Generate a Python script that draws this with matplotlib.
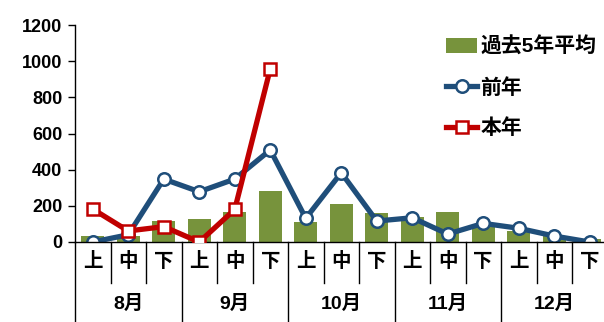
import numpy as np
import matplotlib
matplotlib.use('Agg')
import matplotlib.pyplot as plt
from matplotlib.transforms import blended_transform_factory

plt.rcParams['font.family'] = ['Liberation Sans', 'Noto Sans CJK JP', 'DejaVu Sans']

# data
periods = ['上', '中', '下'] * 5
months = ['8月', '9月', '10月', '11月', '12月']
avg5 = [35, 31, 116, 129, 164, 282, 111, 212, 162, 140, 166, 88, 61, 33, 15]
last_year = [0, 40, 348, 278, 348, 509, 131, 383, 116, 134, 44, 103, 76, 33, 0]
this_year = [182, 61, 85, 0, 180, 957]

fig = plt.figure(figsize=(6.04, 3.22), dpi=100)
ax = fig.add_axes([75 / 604, 80 / 322, 532.5 / 604, 217 / 322])

x = np.arange(len(periods))
bars = ax.bar(x, avg5, width=0.66, color='#77933C', label='過去5年平均', zorder=1)
l1, = ax.plot(x, last_year, color='#1F4E7A', lw=3.8, marker='o', ms=9,
              mfc='white', mec='#1F4E7A', mew=1.8, label='前年', zorder=2)
l2, = ax.plot(x[:len(this_year)], this_year, color='#C00000', lw=3.8, marker='s', ms=9,
              mfc='white', mec='#C00000', mew=1.8, label='本年', zorder=3)

ax.set_xlim(-0.5, len(periods) - 0.5)
ax.set_ylim(0, 1200)
ax.set_yticks(range(0, 1201, 200))
ax.tick_params(axis='y', labelsize=13, length=5, width=1, pad=4)
for t in ax.get_yticklabels():
    t.set_fontweight('bold')
ax.set_xticks([])
for s in ['top', 'right']:
    ax.spines[s].set_visible(False)
ax.spines['left'].set_linewidth(1)
ax.spines['bottom'].set_linewidth(1)

# two-level category axis
tr = blended_transform_factory(ax.transData, ax.transAxes)
for i in range(len(periods) + 1):
    xs = i - 0.5
    y_end = -0.369 if i % 3 == 0 else -0.189
    ax.plot([xs, xs], [0, y_end], color='black', lw=1, transform=tr, clip_on=False)
for i, p in enumerate(periods):
    ax.text(i, -0.092, p, transform=tr, ha='center', va='center',
            fontsize=14, fontweight='bold')
for j, m in enumerate(months):
    ax.text(3 * j + 1, -0.285, m, transform=tr, ha='center', va='center',
            fontsize=14, fontweight='bold')

fig.legend(handles=[bars, l1, l2], loc='upper left',
           bbox_to_anchor=(446 / 604, 1 - 37 / 322),
           frameon=False, prop={'size': 15, 'weight': 'bold'},
           handlelength=1.5, handletextpad=0.15, labelspacing=1.0,
           borderaxespad=0, borderpad=0)

fig.savefig('out.png', dpi=100)
